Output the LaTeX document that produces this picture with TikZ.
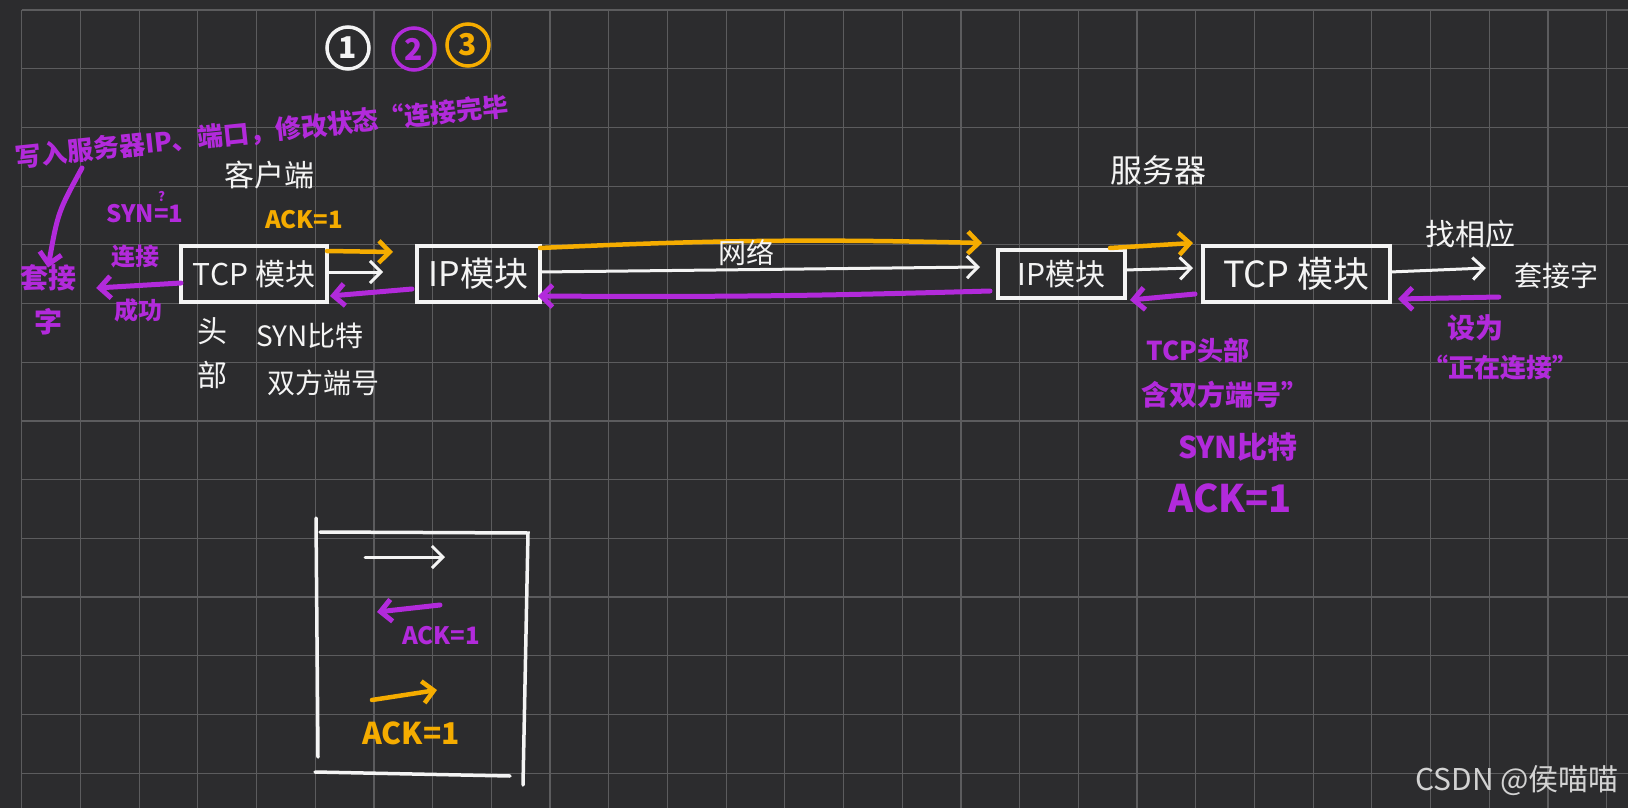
\documentclass[tikz,border=0pt]{standalone}
\usepackage{fontspec}
\setmainfont{Noto Sans CJK SC}
\usetikzlibrary{arrows.meta, positioning}
\definecolor{board}{HTML}{2C2C2E}
\definecolor{gridln}{HTML}{5C5C5E}
\definecolor{ink}{HTML}{F4F4F4}
\definecolor{vio}{HTML}{B22ADB}
\definecolor{amber}{HTML}{F5AC00}
\definecolor{wmark}{HTML}{D2D2D2}
\newcommand{\txtsz}[1]{\fontsize{#1}{#1}\selectfont}

\begin{document}
\begin{tikzpicture}[x=1pt, y=1pt, >={Straight Barb[length=11pt, width=22pt]},
  every node/.style={inner sep=0pt},
  box/.style={draw=ink, text=ink, line width=3.5pt, outer sep=0pt, minimum height=56pt},
  wtxt/.style={text=ink, font=\txtsz{#1}},
  ptxt/.style={text=vio, font=\bfseries\txtsz{#1}},
  otxt/.style={text=amber, font=\bfseries\txtsz{#1}},
  ring/.style={circle, draw=#1, text=#1, line width=3.5pt, minimum size=42pt, font=\bfseries\txtsz{30}},
  warrow/.style={->, draw=ink, line width=3pt, line cap=round, line join=round},
  oarrow/.style={->, draw=amber, line width=4.5pt, line cap=round, line join=round},
  parrow/.style={->, draw=vio, line width=5pt, line cap=round, line join=round},
  frame/.style={draw=ink, line width=3.5pt, line cap=round}]
  \useasboundingbox (0,0) rectangle (1628,-808);
  \fill[board] (0,0) rectangle (1628,-808);
  \foreach \k in {0,...,27}
    \draw[gridln, line width=1.2pt] ({21.7+58.7*\k},-10) -- ({21.7+58.7*\k},-808);
  \foreach \k in {0,...,13}
    \draw[gridln, line width=1.2pt] (21.7,{-10-58.7*\k}) -- (1628,{-10-58.7*\k});

  % the four modules
  \node[box, minimum width=146pt, font=\txtsz{30}] (tcpA) at (254,-274) {TCP 模块};
  \node[box, minimum width=123pt, font=\txtsz{34}, right=90pt of tcpA] (ipA) {IP模块};
  \node[box, minimum width=127pt, minimum height=48pt, font=\txtsz{30}, right=458pt of ipA] (ipB) {IP模块};
  \node[box, minimum width=187pt, font=\txtsz{36}, right=78pt of ipB] (tcpB) {TCP 模块};

  \node[ring=ink] (one) at (348,-48) {1};
  \node[ring=vio] (two) at (414,-49) {2};
  \node[ring=amber] (three) at (468,-45) {3};

  \node[wtxt=30] (client) at (269,-175) {客户端};
  \node[wtxt=32] (server) at (1158,-170) {服务器};
  \node[wtxt=30, font=\fontsize{30}{44}\selectfont, align=center] (hdr) at (212,-353) {头\\部};
  \node[wtxt=28] (synbit) at (310,-336) {SYN比特};
  \node[wtxt=28] (ports) at (323,-383) {双方端号};
  \node[wtxt=30] (find) at (1470,-234) {找相应};
  \node[wtxt=28] (sockB) at (1556,-276) {套接字};
  \node[otxt=24] (ackA) at (304,-220) {ACK=1};

  \node[ptxt=26, rotate=6] (note) at (262,-132) {写入服务器IP、端口，修改状态“连接完毕};
  \node[ptxt=28, font=\bfseries\fontsize{28}{44}\selectfont, align=center] (sockA) at (48,-300) {套接\\字};
  \node[ptxt=24] (syn) at (145,-207) {SYN\shortstack{{\txtsz{13}?}\\[4pt]=}1};
  \node[ptxt=24] (conn) at (135,-257) {连接};
  \node[ptxt=24] (ok) at (138,-310) {成功};
  \node[ptxt=26] (tcphdr) at (1198,-350) {TCP头部};
  \node[ptxt=28] (has) at (1225,-395) {含双方端号”};
  \node[ptxt=30] (synB) at (1238,-447) {SYN比特};
  \node[ptxt=38] (ackB) at (1230,-498) {ACK=1};
  \node[ptxt=28] (setto) at (1475,-328) {设为};
  \node[ptxt=26] (state) at (1500,-368) {“正在连接”};
  \coordinate (noteend) at (82,-168);

  % client side
  \draw[oarrow] ([yshift=23pt]tcpA.east) -- ([xshift=-24pt, yshift=22pt]ipA.west);
  \draw[warrow] ([yshift=2pt]tcpA.east) -- ([xshift=-34pt, yshift=2pt]ipA.west);
  \draw[parrow] ([xshift=-5pt, yshift=-15pt]ipA.west) -- ([xshift=3pt, yshift=-22pt]tcpA.east);
  \draw[parrow] ([yshift=-9pt]tcpA.west) -- ([xshift=20pt, yshift=12pt]sockA.east);
  \draw[parrow] (noteend) .. controls (58,-212) .. ([yshift=-3pt]sockA.north);

  % across the network
  \draw[oarrow] ([yshift=26pt]ipA.east) to[bend left=2] ([xshift=-16pt, yshift=31pt]ipB.west);
  \draw[warrow] ([yshift=2pt]ipA.east) -- ([xshift=-18pt, yshift=7pt]ipB.west)
    node[wtxt=28, above=2pt, pos=0.47] (net) {网络};
  \draw[parrow] ([xshift=-8pt, yshift=-17pt]ipB.west) to[bend left=1] ([xshift=-2pt, yshift=-22pt]ipA.east);

  % server side
  \draw[oarrow] ([xshift=-15pt, yshift=26pt]ipB.east) -- ([xshift=-10pt, yshift=31pt]tcpB.west);
  \draw[warrow] ([yshift=4pt]ipB.east) -- ([xshift=-10pt, yshift=6pt]tcpB.west);
  \draw[parrow] ([xshift=-8pt, yshift=-20pt]tcpB.west) -- ([xshift=5pt, yshift=-26pt]ipB.east);
  \draw[warrow] ([yshift=2pt]tcpB.east) -- ([xshift=-28pt, yshift=8pt]sockB.west);
  \draw[parrow] ([xshift=-15pt, yshift=-21pt]sockB.west) -- ([xshift=8pt, yshift=-25pt]tcpB.east);

  % legend
  \draw[frame] (316,-518) -- (318,-757);
  \draw[frame] (320,-532) -- (528,-533) -- (523,-785);
  \draw[frame] (315,-772) -- (510,-776);
  \node[ptxt=24] (ackP) at (441,-636) {ACK=1};
  \node[otxt=30] (ackO) at (411,-733) {ACK=1};
  \coordinate (wa) at (365,-557);
  \coordinate (wb) at (445,-557);
  \coordinate (pa) at (440,-605);
  \coordinate (pb) at (377,-612);
  \coordinate (oa) at (372,-700);
  \coordinate (ob) at (437,-690);
  \draw[warrow] (wa) -- (wb);
  \draw[parrow] (pa) -- (pb);
  \draw[oarrow] (oa) -- (ob);

  \node[text=wmark, font=\txtsz{30}] (mark) at (1517,-781) {CSDN @侯喵喵};
\end{tikzpicture}
\end{document}
